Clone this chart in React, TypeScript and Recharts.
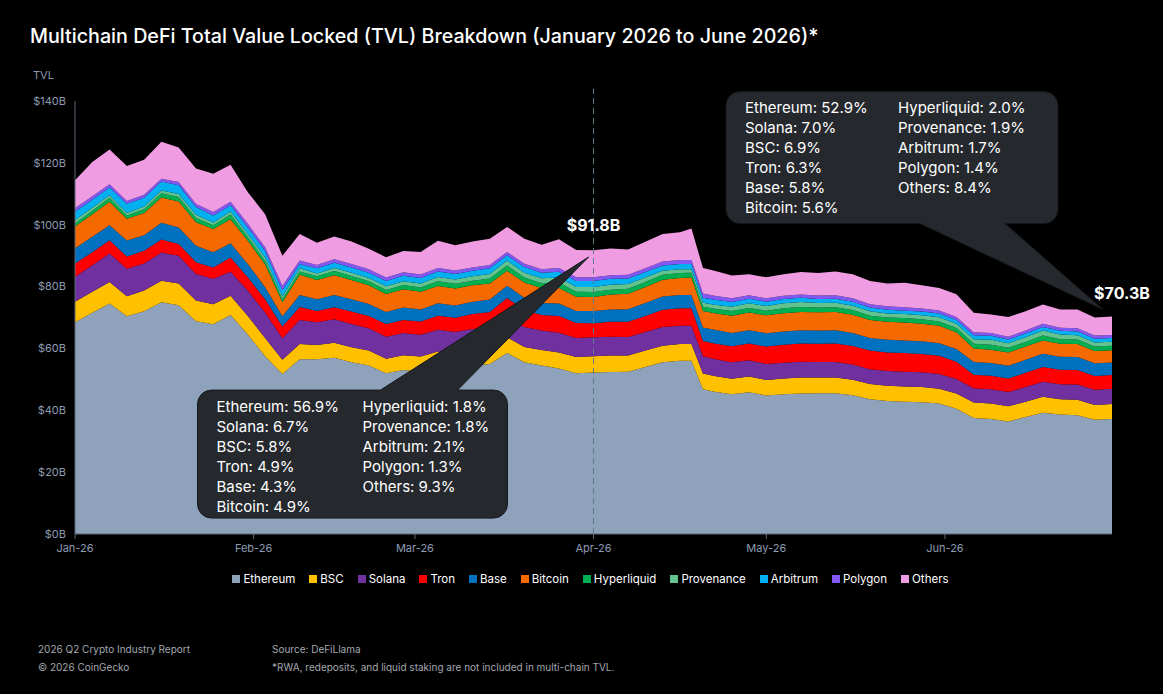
import React from "react";
import {
  Area,
  AreaChart,
  ReferenceDot,
  ReferenceLine,
  XAxis,
  YAxis,
} from "recharts";

const DAYS = [
  0, 3, 6, 9, 12, 15, 18, 21, 24, 27, 30, 33, 36, 39, 42, 45, 48, 51, 54, 57,
  60, 63, 66, 69, 72, 75, 78, 81, 84, 87, 90, 93, 96, 99, 102, 105, 107, 109,
  111, 114, 117, 120, 123, 126, 129, 132, 135, 138, 141, 144, 147, 150, 153,
  156, 159, 162, 165, 168, 171, 174, 177, 180,
];

// TVL per chain, $B
const ETHEREUM = [
  68.5, 71.5, 74.5, 70.4, 72.0, 74.9, 74.0, 68.8, 67.8, 70.8, 64.5, 57.5, 51.7,
  56.5, 56.5, 57.0, 55.5, 54.5, 52.0, 53.0, 52.5, 54.0, 53.5, 54.5, 55.0, 58.5,
  55.5, 54.5, 53.5, 52.0, 52.2, 52.4, 52.5, 54.0, 55.5, 56.0, 56.0, 46.8, 46.0,
  45.2, 45.8, 44.8, 45.2, 45.4, 45.5, 45.5, 44.9, 43.6, 43.0, 42.8, 42.6, 42.2,
  40.5, 37.5, 37.2, 36.4, 37.8, 39.2, 38.6, 38.4, 36.9, 37.2,
];
const BSC = [
  6.6, 6.8, 7.0, 6.5, 6.7, 7.0, 7.0, 6.7, 6.5, 6.2, 6.0, 5.9, 4.6, 4.9, 4.6,
  4.8, 4.9, 4.8, 4.7, 4.8, 4.9, 5.0, 5.0, 5.1, 5.0, 5.1, 5.0, 5.0, 5.2, 5.2,
  5.3, 5.3, 5.2, 5.3, 5.4, 5.4, 5.4, 5.1, 5.1, 5.0, 5.1, 5.0, 5.1, 5.2, 5.1,
  5.1, 5.0, 4.9, 4.9, 4.9, 4.9, 4.8, 4.9, 5.0, 5.0, 4.9, 5.0, 5.2, 5.0, 5.0,
  4.8, 4.85,
];
const SOLANA = [
  8.1, 8.6, 9.2, 8.9, 8.8, 9.1, 9.0, 8.6, 8.2, 7.8, 8.2, 8.2, 7.0, 7.8, 7.4,
  7.6, 7.5, 7.2, 7.1, 7.2, 7.0, 7.0, 6.8, 6.7, 6.6, 6.5, 6.4, 6.3, 6.4, 6.2,
  6.15, 6.1, 6.0, 6.0, 6.0, 5.9, 5.9, 5.6, 5.5, 5.3, 5.3, 5.2, 5.1, 5.1, 5.0,
  5.0, 4.9, 4.8, 4.8, 4.8, 4.8, 4.7, 4.7, 4.6, 4.6, 4.6, 4.7, 4.8, 4.8, 4.9,
  4.9, 4.92,
];
const TRON = [
  4.3, 4.2, 4.3, 3.9, 4.1, 4.2, 3.8, 3.8, 3.7, 4.6, 4.3, 4.3, 3.8, 4.2, 3.6,
  3.9, 4.0, 4.0, 4.1, 4.2, 4.3, 4.6, 4.6, 4.8, 5.2, 6.2, 5.6, 5.0, 5.4, 4.8,
  4.5, 4.8, 4.9, 5.2, 5.6, 5.7, 5.7, 4.9, 5.0, 5.2, 5.4, 5.6, 5.8, 5.9, 5.9,
  6.0, 6.0, 6.0, 6.0, 6.0, 5.9, 5.9, 5.6, 4.4, 4.4, 4.4, 4.6, 4.8, 4.7, 4.7,
  4.5, 4.43,
];
const BASE = [
  4.9, 5.0, 4.8, 5.2, 5.0, 5.4, 5.3, 5.3, 4.9, 4.6, 4.3, 3.9, 3.3, 3.9, 3.8,
  4.0, 4.0, 3.9, 3.9, 4.0, 3.9, 4.0, 4.0, 4.0, 4.0, 4.0, 3.9, 3.9, 4.0, 3.9,
  3.95, 4.0, 4.1, 4.2, 4.3, 4.3, 4.3, 4.4, 4.4, 4.3, 4.3, 4.3, 4.3, 4.3, 4.3,
  4.3, 4.2, 4.1, 4.1, 4.1, 4.1, 4.1, 4.1, 4.1, 4.1, 4.1, 4.2, 4.3, 4.2, 4.2,
  4.1, 4.08,
];
const BITCOIN = [
  7.0, 7.3, 7.6, 7.0, 7.2, 8.2, 8.4, 7.6, 7.5, 7.8, 7.5, 7.4, 4.5, 6.5, 6.2,
  6.4, 6.2, 6.0, 5.8, 5.9, 5.7, 5.6, 5.5, 5.3, 5.2, 4.8, 4.9, 4.8, 5.0, 4.6,
  4.5, 4.8, 5.0, 5.2, 5.4, 5.5, 5.6, 5.3, 5.4, 5.6, 5.7, 5.8, 5.9, 5.9, 5.9,
  5.9, 5.9, 5.8, 5.8, 5.8, 5.7, 5.6, 5.4, 4.4, 4.3, 4.3, 4.3, 4.3, 4.2, 4.2,
  4.0, 3.94,
];
const HYPERLIQUID = [
  1.0, 1.1, 1.3, 1.1, 1.2, 1.4, 1.5, 1.4, 1.2, 1.5, 1.2, 1.1, 1.0, 1.1, 1.2,
  1.3, 1.3, 1.3, 1.3, 1.4, 1.4, 1.5, 1.5, 1.5, 1.6, 1.7, 1.6, 1.6, 1.7, 1.6,
  1.65, 1.6, 1.6, 1.6, 1.6, 1.6, 1.6, 1.4, 1.4, 1.5, 1.5, 1.5, 1.6, 1.6, 1.5,
  1.5, 1.5, 1.4, 1.4, 1.4, 1.4, 1.4, 1.4, 1.5, 1.6, 1.5, 1.5, 1.6, 1.5, 1.5,
  1.4, 1.41,
];
const PROVENANCE = [
  1.1, 1.0, 0.8, 0.8, 0.9, 0.9, 0.9, 1.0, 0.9, 1.0, 1.0, 1.1, 0.9, 1.0, 0.9,
  1.0, 1.1, 1.1, 1.2, 1.2, 1.3, 1.4, 1.4, 1.4, 1.5, 1.6, 1.6, 1.6, 1.7, 1.6,
  1.65, 1.6, 1.5, 1.4, 1.3, 1.2, 1.1, 1.3, 1.3, 1.4, 1.5, 1.5, 1.6, 1.6, 1.5,
  1.5, 1.4, 1.4, 1.3, 1.3, 1.3, 1.4, 1.4, 1.5, 1.6, 1.5, 1.5, 1.6, 1.5, 1.4,
  1.35, 1.34,
];
const ARBITRUM = [
  2.7, 2.6, 2.5, 3.0, 2.8, 2.9, 2.9, 2.5, 2.3, 2.0, 2.1, 2.1, 2.0, 1.4, 1.7,
  1.7, 1.7, 1.7, 1.7, 1.8, 1.8, 1.8, 1.8, 1.8, 1.8, 1.7, 1.8, 1.8, 1.9, 1.9,
  1.93, 1.9, 1.8, 1.8, 1.7, 1.7, 1.7, 1.6, 1.6, 1.5, 1.5, 1.4, 1.4, 1.4, 1.3,
  1.3, 1.3, 1.2, 1.2, 1.1, 1.2, 1.2, 1.2, 1.3, 1.3, 1.2, 1.2, 1.1, 1.2, 1.2,
  1.2, 1.2,
];
const POLYGON = [
  1.1, 1.1, 1.1, 0.9, 1.0, 0.9, 1.0, 1.0, 1.1, 1.1, 1.2, 1.2, 1.5, 1.1, 1.1,
  1.1, 1.1, 1.1, 1.1, 1.1, 1.1, 1.1, 1.1, 1.1, 1.1, 1.1, 1.1, 1.1, 1.2, 1.2,
  1.19, 1.2, 1.2, 1.2, 1.3, 1.3, 1.3, 1.4, 1.3, 1.2, 1.1, 1.1, 1.0, 1.0, 1.1,
  1.1, 1.1, 1.1, 1.1, 1.1, 1.0, 1.0, 1.0, 0.9, 0.9, 0.9, 1.0, 1.1, 1.0, 1.0,
  1.0, 0.98,
];
const OTHERS = [
  9.1, 11.1, 11.2, 11.3, 11.3, 11.9, 11.2, 11.5, 12.4, 12.0, 10.2, 10.7, 9.7,
  8.6, 7.2, 7.4, 7.3, 6.6, 6.6, 6.9, 7.3, 8.8, 8.2, 8.4, 8.5, 8.1, 8.1, 7.9,
  9.3, 8.8, 8.7, 8.6, 8.2, 8.6, 8.9, 9.0, 10.2, 8.2, 8.1, 7.4, 6.8, 6.8, 7.0,
  7.3, 7.3, 7.7, 7.8, 7.5, 7.4, 7.9, 7.5, 7.2, 7.3, 6.3, 6.0, 6.4, 6.2, 6.2,
  5.9, 6.1, 5.85, 5.95,
];

const SERIES = [
  "Ethereum",
  "BSC",
  "Solana",
  "Tron",
  "Base",
  "Bitcoin",
  "Hyperliquid",
  "Provenance",
  "Arbitrum",
  "Polygon",
  "Others",
];
const SERIES_VALUES = [
  ETHEREUM, BSC, SOLANA, TRON, BASE, BITCOIN, HYPERLIQUID, PROVENANCE,
  ARBITRUM, POLYGON, OTHERS,
];

const MONTH_TICKS = [0, 31, 59, 90, 120, 151];
const MONTH_LABELS = ["Jan-26", "Feb-26", "Mar-26", "Apr-26", "May-26", "Jun-26"];
const Y_TICKS = [0, 20, 40, 60, 80, 100, 120, 140];

// callout texts
const APR_DAY = 90;
const APR_TOTAL = 91.8;
const APR_LEFT = ["Ethereum: 56.9%", "Solana: 6.7%", "BSC: 5.8%", "Tron: 4.9%", "Base: 4.3%", "Bitcoin: 4.9%"];
const APR_RIGHT = ["Hyperliquid: 1.8%", "Provenance: 1.8%", "Arbitrum: 2.1%", "Polygon: 1.3%", "Others: 9.3%"];
const JUN_DAY = 180;
const JUN_TOTAL = 70.3;
const JUN_LEFT = ["Ethereum: 52.9%", "Solana: 7.0%", "BSC: 6.9%", "Tron: 6.3%", "Base: 5.8%", "Bitcoin: 5.6%"];
const JUN_RIGHT = ["Hyperliquid: 2.0%", "Provenance: 1.9%", "Arbitrum: 1.7%", "Polygon: 1.4%", "Others: 8.4%"];

const COLORS: Record<string, string> = {
  Ethereum: "#8ea2bb",
  BSC: "#ffc000",
  Solana: "#7030a0",
  Tron: "#ff0000",
  Base: "#0070c0",
  Bitcoin: "#f56a00",
  Hyperliquid: "#00b050",
  Provenance: "#62c38f",
  Arbitrum: "#00b0f0",
  Polygon: "#8257f2",
  Others: "#f09ce2",
};

const FONT = "Inter, 'Noto Sans', Roboto, sans-serif";
const AXIS_GRAY = "#5d6874";
const TICK_COLOR = "#8d9bb0";
const BOX_FILL = "#25292e";

const rows = DAYS.map((day, i) => {
  const row: Record<string, number> = { day };
  SERIES.forEach((name, s) => {
    row[name] = SERIES_VALUES[s][i];
  });
  return row;
});

function calloutPath(
  x: number, y: number, w: number, h: number, r: number,
  side: "top" | "bottom", b1: number, b2: number, ax: number, ay: number,
) {
  if (side === "top") {
    return `M${x + r},${y} L${b1},${y} L${ax},${ay} L${b2},${y} L${x + w - r},${y}
      A${r},${r} 0 0 1 ${x + w},${y + r} L${x + w},${y + h - r}
      A${r},${r} 0 0 1 ${x + w - r},${y + h} L${x + r},${y + h}
      A${r},${r} 0 0 1 ${x},${y + h - r} L${x},${y + r}
      A${r},${r} 0 0 1 ${x + r},${y} Z`;
  }
  return `M${x + r},${y} L${x + w - r},${y}
    A${r},${r} 0 0 1 ${x + w},${y + r} L${x + w},${y + h - r}
    A${r},${r} 0 0 1 ${x + w - r},${y + h} L${b2},${y + h} L${ax},${ay} L${b1},${y + h}
    L${x + r},${y + h} A${r},${r} 0 0 1 ${x},${y + h - r} L${x},${y + r}
    A${r},${r} 0 0 1 ${x + r},${y} Z`;
}

function CalloutText({ x1, x2, y, left, right }: {
  x1: number; x2: number; y: number; left: string[]; right: string[];
}) {
  return (
    <g fontFamily={FONT} fontSize={15} fill="#ffffff">
      {left.map((t, i) => (
        <text key={"l" + i} x={x1} y={y + i * 20}>{t}</text>
      ))}
      {right.map((t, i) => (
        <text key={"r" + i} x={x2} y={y + i * 20}>{t}</text>
      ))}
    </g>
  );
}

// Apr 1 callout: box sits below-left of the point, pointer on its top edge
function AprCallout(props: any) {
  const { cx, cy } = props;
  if (cx == null || cy == null) return null;
  const bx = cx - 396;
  const by = cy + 140;
  return (
    <g>
      <path
        d={calloutPath(bx, by, 310, 128, 14, "top", cx - 213, cx - 136, cx - 5, cy + 7)}
        fill={BOX_FILL}
        stroke="#15181b"
        strokeWidth={1}
      />
      <CalloutText x1={bx + 19} x2={bx + 165} y={by + 22} left={APR_LEFT} right={APR_RIGHT} />
      <text x={cx} y={cy - 19} textAnchor="middle" fontFamily={FONT} fontWeight={700} fontSize={16} fill="#ffffff">
        ${APR_TOTAL}B
      </text>
    </g>
  );
}

// Jun 30 callout: box above-left of the point, pointer on its bottom edge
function JunCallout(props: any) {
  const { cx, cy } = props;
  if (cx == null || cy == null) return null;
  const bx = cx - 386;
  const by = cy - 225;
  return (
    <g>
      <path
        d={calloutPath(bx, by, 332, 132, 14, "bottom", cx - 192, cx - 107, cx - 9, cy - 7)}
        fill={BOX_FILL}
        stroke="#15181b"
        strokeWidth={1}
      />
      <CalloutText x1={bx + 19} x2={bx + 172} y={by + 21} left={JUN_LEFT} right={JUN_RIGHT} />
      <text x={cx + 10} y={cy - 18} textAnchor="middle" fontFamily={FONT} fontWeight={700} fontSize={16} fill="#ffffff">
        ${JUN_TOTAL}B
      </text>
    </g>
  );
}

export default function App() {
  return (
    <div
      style={{
        position: "fixed",
        left: 0,
        top: 0,
        width: 1163,
        height: 694,
        background: "#000000",
        overflow: "hidden",
        fontFamily: FONT,
      }}
    >
      <div
        style={{
          position: "absolute",
          left: 30,
          top: 24,
          fontSize: 19.7,
          lineHeight: "24px",
          fontWeight: 500,
          color: "#ffffff",
          whiteSpace: "nowrap",
        }}
      >
        Multichain DeFi Total Value Locked (TVL) Breakdown (January 2026 to June 2026)*
      </div>
      <div
        style={{ position: "absolute", left: 33, top: 68, fontSize: 11, color: TICK_COLOR }}
      >
        TVL
      </div>

      <div style={{ position: "absolute", left: 0, top: 0 }}>
        <AreaChart
          width={1163}
          height={694}
          data={rows}
          margin={{ top: 101, right: 51, bottom: 130, left: 15 }}
        >
          <XAxis
            dataKey="day"
            type="number"
            domain={[0, 180]}
            ticks={MONTH_TICKS}
            tickFormatter={(v: number) => MONTH_LABELS[MONTH_TICKS.indexOf(v)] ?? ""}
            height={30}
            tick={{ fill: TICK_COLOR, fontSize: 11, fontFamily: FONT }}
            axisLine={{ stroke: AXIS_GRAY }}
            tickLine={{ stroke: AXIS_GRAY }}
            tickSize={5}
            tickMargin={5}
          />
          <YAxis
            type="number"
            domain={[0, 140]}
            ticks={Y_TICKS}
            width={60}
            tickFormatter={(v: number) => `$${v}B`}
            tick={{ fill: TICK_COLOR, fontSize: 11, fontFamily: FONT }}
            axisLine={{ stroke: AXIS_GRAY }}
            tickLine={false}
            tickMargin={3}
          />
          {SERIES.map((name) => (
            <Area
              key={name}
              type="linear"
              dataKey={name}
              stackId="tvl"
              stroke="none"
              fill={COLORS[name]}
              fillOpacity={1}
              isAnimationActive={false}
            />
          ))}
          <ReferenceLine
            segment={[
              { x: APR_DAY, y: 0 },
              { x: APR_DAY, y: 144 },
            ]}
            ifOverflow="visible"
            stroke="#5f7a8a"
            strokeDasharray="6 4"
          />
          <ReferenceDot
            x={APR_DAY}
            y={APR_TOTAL}
            r={2}
            ifOverflow="visible"
            shape={AprCallout}
          />
          <ReferenceDot
            x={JUN_DAY}
            y={JUN_TOTAL}
            r={2}
            ifOverflow="visible"
            shape={JunCallout}
          />
        </AreaChart>
      </div>

      <div
        style={{
          position: "absolute",
          left: 9,
          top: 572,
          width: 1163,
          display: "flex",
          justifyContent: "center",
          gap: 14,
          fontSize: 11.5,
          color: "#ffffff",
          lineHeight: "14px",
        }}
      >
        {SERIES.map((name) => (
          <div key={name} style={{ display: "flex", alignItems: "center" }}>
            <span
              style={{
                display: "inline-block",
                width: 8,
                height: 8,
                background: COLORS[name],
                marginRight: 3,
              }}
            />
            {name}
          </div>
        ))}
      </div>

      <div style={{ position: "absolute", left: 38, top: 640, fontSize: 10, color: "#a3a8ae", lineHeight: "18px" }}>
        <div>2026 Q2 Crypto Industry Report</div>
        <div>© 2026 CoinGecko</div>
      </div>
      <div style={{ position: "absolute", left: 272, top: 640, fontSize: 10, color: "#a3a8ae", lineHeight: "18px" }}>
        <div>Source: DeFiLlama</div>
        <div>*RWA, redeposits, and liquid staking are not included in multi-chain TVL.</div>
      </div>
    </div>
  );
}
